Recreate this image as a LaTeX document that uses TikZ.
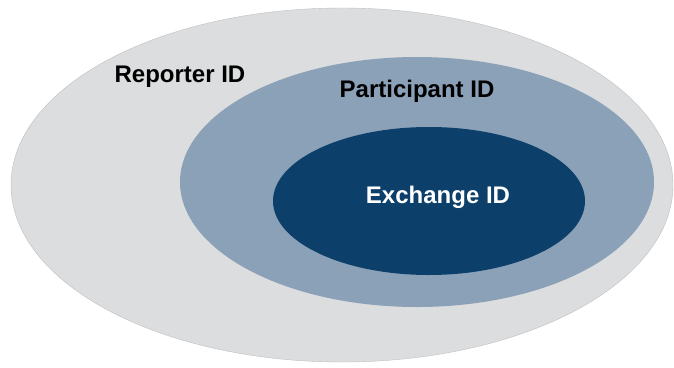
\documentclass[tikz,border=0pt]{standalone}
\usepackage{fontspec}
\setmainfont{Liberation Sans}
\usepackage{tikz}
\definecolor{reportergray}{HTML}{DCDDDF}
\definecolor{participantblue}{HTML}{8AA1B8}
\definecolor{exchangeblue}{HTML}{0C3F69}
\begin{document}
\begin{tikzpicture}[x=1pt, y=-1pt,
    idtext/.style={font=\fontsize{24}{24}\selectfont\bfseries, inner sep=0pt}]
	\useasboundingbox (0,0) rectangle (674,367);
	% nested sets
	\fill [reportergray, draw=black!25] (342,185) ellipse [x radius=331, y radius=177];
	\fill [participantblue] (417,182) ellipse [x radius=237, y radius=125];
	\fill [exchangeblue] (429,201) ellipse [x radius=156, y radius=74];
	\node [idtext] (reporter) at (180,77) {Reporter ID};
	\node [idtext] (participant) at (417,91) {Participant ID};
	\node [idtext, white] (exchange) at (438,197) {Exchange ID};
\end{tikzpicture}
\end{document}
